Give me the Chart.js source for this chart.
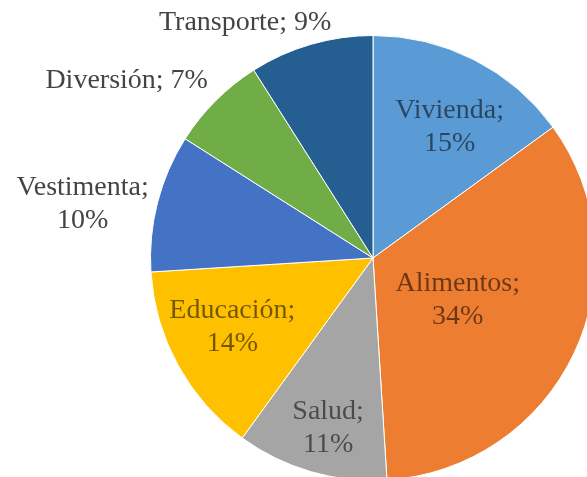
<!DOCTYPE html>
<html>
<head>
<meta charset="utf-8">
<script src="https://cdn.jsdelivr.net/npm/chart.js@4/dist/chart.umd.min.js"></script>
<style>
  html, body { margin: 0; padding: 0; background: #fff; overflow: hidden; }
  #wrap { position: absolute; left: 0; top: 0; width: 620px; height: 500px; }
</style>
</head>
<body>
<div id="wrap"><canvas id="gastos"></canvas></div>
<script>
// gasto del hogar por rubro (%)
const categorias = ['Vivienda', 'Alimentos', 'Salud', 'Educación', 'Vestimenta', 'Diversión', 'Transporte'];
const porcentajes = [15, 34, 11, 14, 10, 7, 9];
const colores = ['#5B9BD5', '#ED7D31', '#A5A5A5', '#FFC000', '#4472C4', '#70AD47', '#255E91'];

// ubicación de cada rótulo: distancia (fracción del radio), giro en grados, ¿dentro del sector?
const rotulos = [
  { dist: 0.68, giro: 3.4, dentro: true, unaLinea: false },
  { dist: 0.425, giro: 1.1, dentro: true, unaLinea: false },
  { dist: 0.79, giro: -1.4, dentro: true, unaLinea: false },
  { dist: 0.704, giro: 2.7, dentro: true, unaLinea: false },
  { dist: 1.327, giro: -3.9, dentro: false, unaLinea: false },
  { dist: 1.365, giro: -9.2, dentro: false, unaLinea: true },
  { dist: 1.204, giro: -12.3, dentro: false, unaLinea: true }
];

const etiquetas = {
  id: 'etiquetas',
  afterDatasetsDraw(chart) {
    const ctx = chart.ctx;
    const arcos = chart.getDatasetMeta(0).data;
    ctx.save();
    ctx.font = '28px "Liberation Serif", "Times New Roman", serif';
    ctx.textAlign = 'center';
    ctx.textBaseline = 'middle';
    arcos.forEach((arc, i) => {
      const r = rotulos[i];
      const p = arc.getProps(['x', 'y', 'startAngle', 'endAngle', 'outerRadius'], true);
      const ang = (p.startAngle + p.endAngle) / 2 + r.giro * Math.PI / 180;
      const cx = p.x + Math.cos(ang) * p.outerRadius * r.dist;
      const cy = p.y + Math.sin(ang) * p.outerRadius * r.dist;
      ctx.fillStyle = r.dentro ? 'rgba(0,0,0,0.55)' : '#444444';
      const valor = porcentajes[i] + '%';
      if (r.unaLinea) {
        ctx.fillText(categorias[i] + '; ' + valor, cx, cy);
      } else {
        ctx.fillText(categorias[i] + ';', cx, cy - 16.5);
        ctx.fillText(valor, cx, cy + 16.5);
      }
    });
    ctx.restore();
  }
};

new Chart(document.getElementById('gastos'), {
  type: 'pie',
  data: {
    labels: categorias,
    datasets: [{
      data: porcentajes,
      backgroundColor: colores,
      borderColor: '#ffffff',
      borderWidth: 1
    }]
  },
  options: {
    responsive: true,
    maintainAspectRatio: false,
    animation: false,
    layout: { padding: { left: 150, top: 35, right: 24, bottom: 19 } },
    plugins: {
      legend: { display: false },
      tooltip: { enabled: false }
    }
  },
  plugins: [etiquetas]
});
</script>
</body>
</html>
